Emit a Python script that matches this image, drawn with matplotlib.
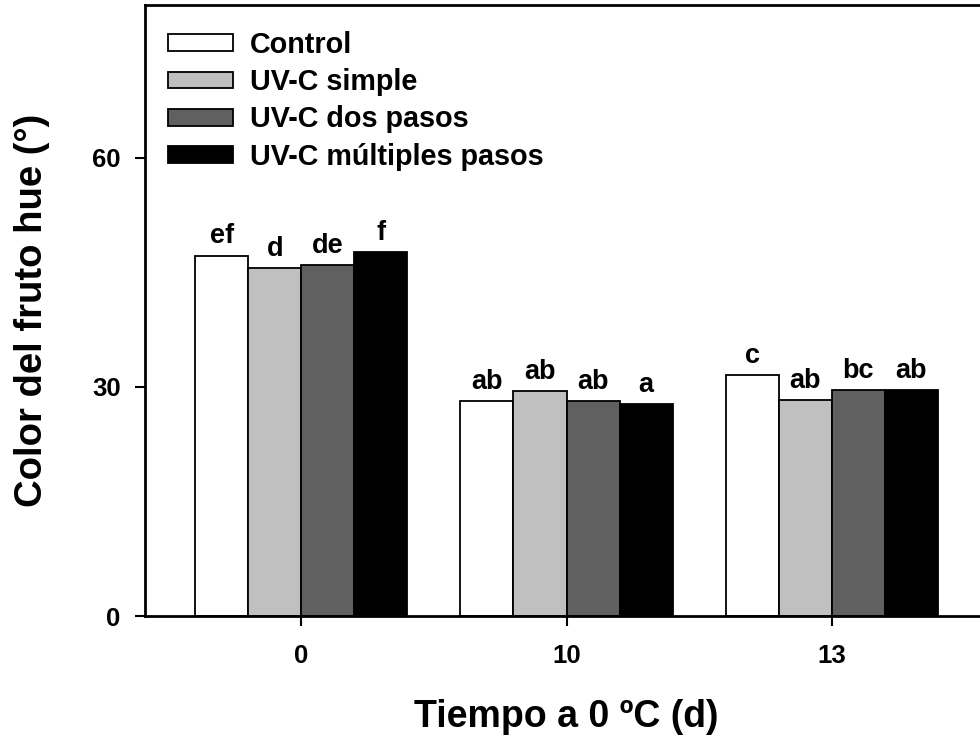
import matplotlib
matplotlib.use("Agg")
import matplotlib.pyplot as plt
import numpy as np

plt.rcParams['font.family'] = ['Liberation Sans', 'DejaVu Sans']
plt.rcParams['font.weight'] = 'bold'

categories = ["0", "10", "13"]
series = ["Control", "UV-C simple", "UV-C dos pasos", "UV-C múltiples pasos"]
control = [47.2, 28.2, 31.6]
uvc_simple = [45.5, 29.5, 28.3]
uvc_dos = [45.9, 28.1, 29.6]
uvc_multi = [47.6, 27.8, 29.6]
letters_control = ["ef", "ab", "c"]
letters_simple = ["d", "ab", "ab"]
letters_dos = ["de", "ab", "bc"]
letters_multi = ["f", "a", "ab"]

values = [control, uvc_simple, uvc_dos, uvc_multi]
letters = [letters_control, letters_simple, letters_dos, letters_multi]
colors = ["white", "#c0c0c0", "#606060", "black"]

fig = plt.figure(figsize=(9.8, 7.38), dpi=100)
ax_l, ax_r, ax_t, ax_b = 145, 988, 5, 616
ax = fig.add_axes([ax_l/980, 1-ax_b/738, (ax_r-ax_l)/980, (ax_b-ax_t)/738])

x = np.arange(len(categories))
w = 0.2
for i, (vals, col, lab, lets) in enumerate(zip(values, colors, series, letters)):
    pos = x + (i - 1.5) * w
    ax.bar(pos, vals, width=w, color=col, edgecolor="black", linewidth=1.3, label=lab)
    for p, v, t in zip(pos, vals, lets):
        ax.text(p, v + 0.8, t, ha="center", va="bottom", fontsize=19.5, fontweight="bold")

ax.set_xlim(-0.59, 2.59)
ax.set_ylim(0, 80)
ax.set_yticks([0, 30, 60])
ax.set_xticks(x)
ax.set_xticklabels(categories)
ax.tick_params(axis="both", direction="out", length=7.5, width=1.5, labelsize=18.5)
ax.tick_params(axis="x", pad=13)
ax.tick_params(axis="y", pad=10)
for lbl in ax.get_xticklabels() + ax.get_yticklabels():
    lbl.set_fontweight("bold")
for s in ax.spines.values():
    s.set_linewidth(2)

ax.set_ylabel("Color del fruto hue (°)", fontsize=27.5, fontweight="bold", labelpad=30)
ax.set_xlabel("Tiempo a 0 ºC (d)", fontsize=27, fontweight="bold", labelpad=22)

leg = ax.legend(loc="upper left", bbox_to_anchor=(23/843, 1-(31-5)/611), frameon=False,
                fontsize=20.7, handlelength=2.26, handleheight=0.52,
                labelspacing=0.32, handletextpad=0.6, borderaxespad=0, borderpad=0)
for t in leg.get_texts():
    t.set_fontweight("bold")

fig.savefig("out.png", dpi=100)
